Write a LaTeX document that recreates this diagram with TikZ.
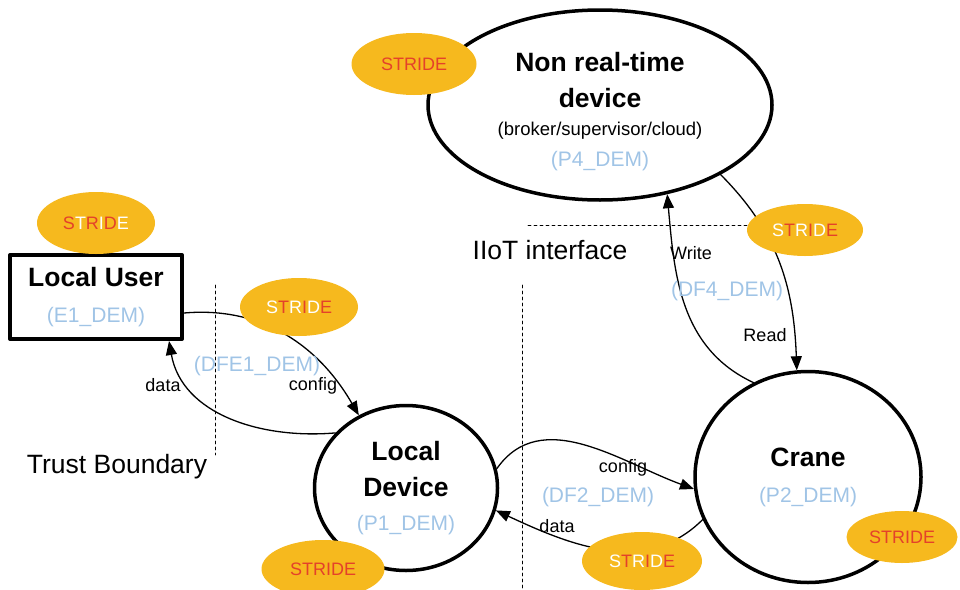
\documentclass[tikz,border=0pt]{standalone}
\usepackage{fontspec}
\setmainfont{Liberation Sans}
\usepackage{tikz}
\usetikzlibrary{arrows.meta, shapes.geometric}

\definecolor{arancio}{HTML}{F6B91E}
\definecolor{rosso}{HTML}{E4412A}
\definecolor{azzurro}{HTML}{A0C4E6}

\newcommand{\sr}[1]{\textcolor{rosso}{#1}}
\newcommand{\sw}[1]{\textcolor{white}{#1}}
\newcommand{\idcod}[1]{{\color{azzurro}\fontsize{21}{24}\selectfont #1}}

\tikzset{
  processo/.style={ellipse, draw, line width=3.5pt, inner sep=0pt, align=center, font=\fontsize{26.5}{36}\selectfont},
  stride/.style={ellipse, fill=arancio, minimum width=118pt, minimum height=58pt, inner sep=0pt, font=\fontsize{18}{20}\selectfont},
  flusso/.style={-{Triangle[length=14pt,width=11pt]}, line width=1.3pt},
  etichetta/.style={font=\fontsize{18}{20}\selectfont},
  codice/.style={text=azzurro, font=\fontsize{21}{24}\selectfont},
  confine/.style={dash pattern=on 3pt off 3pt, line width=0.8pt},
  titolo/.style={font=\fontsize{26.5}{30}\selectfont},
}

\begin{document}
\begin{tikzpicture}[x=1pt, y=-1pt, line cap=round, line join=round]
\useasboundingbox (0,0) rectangle (960,589);

% processi ed entita esterna
\node[processo, minimum width=344pt, minimum height=190pt] (NR) at (600,105)
  {\rule{0pt}{32pt}\textbf{Non real-time}\\\textbf{device}\\[-8pt]{\fontsize{18.5}{20}\selectfont (broker/supervisor/cloud)}\\[-5pt]\idcod{(P4\_DEM)}};
\node[processo, minimum width=183pt, minimum height=165pt] (LD) at (406,488)
  {\textbf{Local}\\\textbf{Device}\\[-2pt]\idcod{(P1\_DEM)}};
\node[processo, minimum width=226pt, minimum height=211pt] (CR) at (808,477)
  {\textbf{Crane}\\\idcod{(P2\_DEM)}};
\node[draw, line width=4pt, minimum width=172pt, minimum height=84pt, align=center,
  font=\fontsize{26.5}{36}\selectfont] (LU) at (96,297)
  {\textbf{Local User}\\\idcod{(E1\_DEM)}};

% confini
\draw[confine] (215,285) -- (215,455);
\draw[confine] (522,285) -- (522,589);
\draw[confine] (528,225) -- (760,225);
\node[titolo] (tb) at (117,467) {Trust Boundary};
\node[titolo] (ii) at (550,250) {IIoT interface};

% flussi
\draw[flusso] ([yshift=-16pt]LU.east) to[out=5, in=120] (LD.123);
\draw[flusso] (LD.142) to[out=185, in=-80] ([xshift=-15pt]LU.south east);
\draw[flusso] (LD.12) to[out=55, in=160] (CR.186);
\draw[flusso] (CR.202) to[out=225, in=-25] (LD.-14);
\draw[flusso] (CR.120) to[out=155, in=-85] (NR.-53);
\draw[flusso] (NR.-30) to[out=-45, in=92] (CR.96);

% etichette dei flussi
\node[etichetta] (d1) at (163,385) {data};
\node[etichetta] (c1) at (313,386) {config};
\node[codice] (f1) at (257,366) {(DFE1\_DEM)};
\node[etichetta] (c2) at (623,468) {config};
\node[codice] (f2) at (598,497) {(DF2\_DEM)};
\node[etichetta] (d2) at (557,526) {data};
\node[etichetta] (w4) at (691,253) {Write};
\node[codice] (f4) at (727,291) {(DF4\_DEM)};
\node[etichetta] (r4) at (765,335) {Read};

% STRIDE
\node[stride, minimum width=125pt, minimum height=62pt] (sNR) at (414,64) {\sr{STRIDE}};
\node[stride, minimum height=62pt] (sLU) at (96,223) {\sr{S}\sw{T}\sr{R}\sw{I}\sr{D}\sw{E}};
\node[stride] (sF1) at (299,307) {\sw{S}\sr{T}\sw{R}\sr{I}\sw{D}\sr{E}};
\node[stride, minimum width=116pt, minimum height=52pt] (sF4) at (805,230) {\sw{S}\sr{T}\sw{R}\sr{I}\sw{D}\sr{E}};
\node[stride, minimum width=120pt] (sF2) at (642,561) {\sw{S}\sr{T}\sw{R}\sr{I}\sw{D}\sr{E}};
\node[stride, minimum width=123pt] (sLD) at (323,569) {\sr{STRIDE}};
\node[stride, minimum width=111pt, minimum height=52pt] (sCR) at (902,537) {\sr{STRIDE}};

\end{tikzpicture}
\end{document}
